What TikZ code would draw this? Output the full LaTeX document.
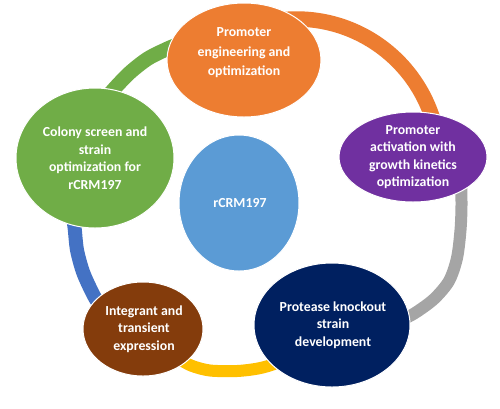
\documentclass[tikz,border=0pt]{standalone}
\usepackage{fontspec}
\setmainfont{Carlito}
\usetikzlibrary{shapes.geometric}
\definecolor{cOrange}{HTML}{ED7D31}
\definecolor{cPurple}{HTML}{7030A0}
\definecolor{cNavy}{HTML}{002060}
\definecolor{cBrown}{HTML}{843C0C}
\definecolor{cGreen}{HTML}{70AD47}
\definecolor{cBlue}{HTML}{5B9BD5}
\definecolor{rOrange}{HTML}{ED7D31}
\definecolor{rGray}{HTML}{A5A5A5}
\definecolor{rYellow}{HTML}{FFC000}
\definecolor{rBlue}{HTML}{4472C4}
\definecolor{rGreen}{HTML}{70AD47}
\begin{document}
\begin{tikzpicture}[x=1pt,y=-1pt,
  bubble/.style={ellipse, draw=white, line width=1pt, inner sep=0pt},
  txt/.style={text=white, font=\bfseries\fontsize{13.8pt}{17.5pt}\selectfont, align=center, inner sep=0pt},
  txtwide/.style={text=white, font=\bfseries\fontsize{13.8pt}{19.5pt}\selectfont, align=center, inner sep=0pt},
  ring/.style={line width=#1, line cap=butt, line join=round},
]
\useasboundingbox[fill=white] (0,0) rectangle (500,408);

% ring segments (drawn beneath the bubbles)
\draw[ring=15.5pt, draw=rOrange] plot[domain=-100:-10, samples=60]
  ({296.4+143*cos(\x)},{162+143*sin(\x)});
\draw[ring=12pt, draw=rGray] plot[smooth] coordinates
  {(461,178) (461.5,205) (460.5,230) (457,258) (449,281) (434,299) (415,313) (398,322)};
\draw[ring=12pt, draw=rYellow] plot[smooth] coordinates
  {(176,357) (191,365.5) (210,370.5) (237,371) (258,368.5) (274,364) (290,356)};
\draw[ring=14pt, draw=rBlue] plot[smooth] coordinates
  {(72,212) (74.5,227) (77,250) (83,272) (91,290) (97,301) (105,311)};
\draw[ring=14.5pt, draw=rGreen] plot[smooth] coordinates
  {(103,102) (114,89) (130,72.5) (148,58.5) (168,48.5) (184,42)};

% bubbles
\node[bubble, fill=cOrange, minimum width=154pt, minimum height=114pt] (prom) at (244,60) {};
\node[bubble, fill=cPurple, minimum width=148pt, minimum height=90pt] (act) at (413,157) {};
\node[bubble, fill=cNavy, minimum width=156pt, minimum height=124pt] (prot) at (332,325) {};
\node[bubble, fill=cBrown, minimum width=120pt, minimum height=94pt] (integ) at (143,329) {};
\node[bubble, fill=cGreen, minimum width=158pt, minimum height=140pt] (col) at (95,158) {};
\node[bubble, fill=cBlue, minimum width=120pt, minimum height=136pt] (core) at (239,203) {};

% labels
\node[txtwide] (promT) at (244,53) {Promoter\\engineering and\\optimization};
\node[txt] (actT) at (act) {Promoter\\activation with\\growth kinetics\\optimization};
\node[txt] (protT) at (333,325) {Protease knockout\\strain\\development};
\node[txt] (integT) at (144,329) {Integrant and\\transient\\expression};
\node[txt] (colT) at (95,158) {Colony screen and\\strain\\optimization for\\rCRM197};
\node[txt] (coreT) at (240,203) {rCRM197};
\end{tikzpicture}
\end{document}
